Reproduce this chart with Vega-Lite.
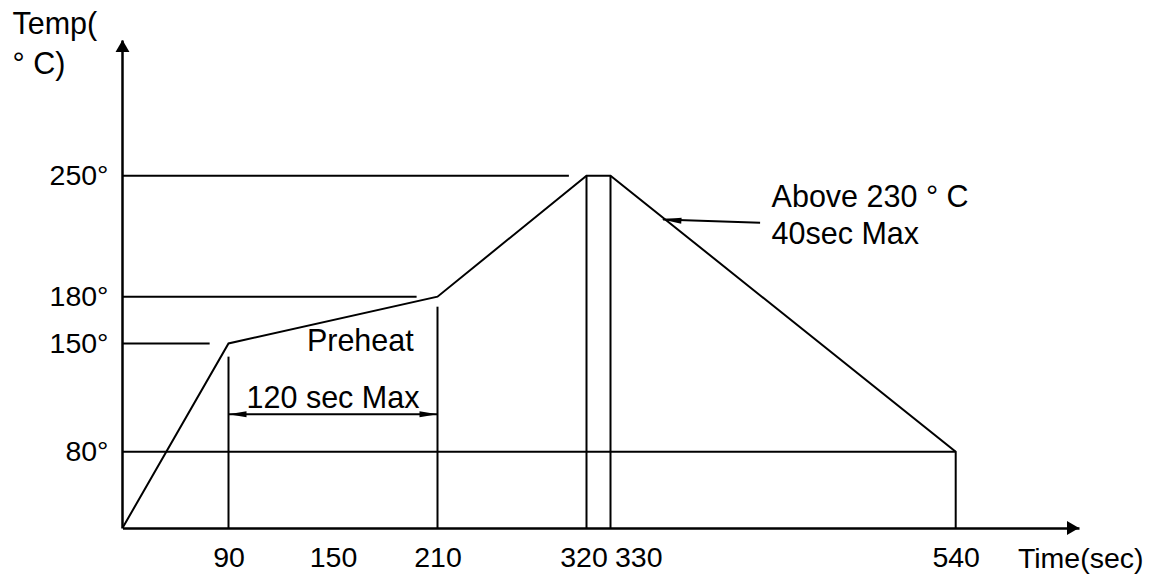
{
  "$schema": "https://vega.github.io/schema/vega-lite/v6.json",
  "width": 957,
  "height": 488,
  "autosize": {"type": "none"},
  "padding": {"left": 122, "top": 40, "right": 75, "bottom": 50},
  "background": "white",
  "config": {
    "view": {"stroke": null},
    "font": "Liberation Sans",
    "axis": {
      "grid": false, "ticks": false, "tickSize": 0,
      "domainColor": "#000", "domainWidth": 2.5,
      "labelColor": "#000", "labelFont": "Liberation Sans", "labelFontSize": 28.5,
      "titleColor": "#000", "titleFont": "Liberation Sans", "titleFontWeight": "normal"
    },
    "text": {"font": "Liberation Sans", "fontSize": 30.5, "color": "#000"}
  },
  "datasets": {
    "profile": [
      {"i": 1, "x": 0, "y": 0},
      {"i": 2, "x": 90, "y": 150},
      {"i": 3, "x": 210, "y": 180},
      {"i": 4, "x": 320, "y": 250},
      {"i": 5, "x": 330, "y": 250},
      {"i": 6, "x": 540, "y": 80},
      {"i": 7, "x": 540, "y": 0}
    ],
    "lines": [
      {"x": 0, "x2": 307, "y": 250, "y2": 250},
      {"x": 0, "x2": 198, "y": 180, "y2": 180},
      {"x": 0, "x2": 74, "y": 150, "y2": 150},
      {"x": 0, "x2": 540, "y": 80, "y2": 80},
      {"x": 90, "x2": 90, "y": 0, "y2": 141.5},
      {"x": 210, "x2": 210, "y": 0, "y2": 173.6},
      {"x": 320, "x2": 320, "y": 0, "y2": 250},
      {"x": 330, "x2": 330, "y": 0, "y2": 250},
      {"x": 90, "x2": 210, "y": 104.2, "y2": 104.2},
      {"x": 421, "x2": 362, "y": 222.8, "y2": 224.6}
    ],
    "heads": [
      {"name": "dimL", "x": 90, "y": 104.2},
      {"name": "dimR", "x": 210, "y": 104.2},
      {"name": "note", "x": 361, "y": 224.8},
      {"name": "yAxis", "x": 0, "y": 330},
      {"name": "xAxis", "x": 615, "y": 0}
    ],
    "notesLeft": [
      {"x": 135, "y": 151, "label": "Preheat"},
      {"x": 428, "y": 237.3, "label": "Above 230 ° C"},
      {"x": 428, "y": 215.7, "label": "40sec Max"}
    ],
    "notesCenter": [
      {"x": 150, "y": 114, "label": "120 sec Max"}
    ]
  },
  "encoding": {
    "x": {
      "field": "x", "type": "quantitative",
      "scale": {"type": "linear", "domain": [0, 90, 210, 320, 330, 540, 615], "range": [0.5, 106.5, 315.5, 464.5, 488.5, 833.7, 957], "nice": false, "zero": false},
      "axis": {
        "values": [90, 150, 210, 320, 330, 540],
        "labelOverlap": false, "labelFlush": false, "labelBound": false,
        "labelPadding": 15, "labelBaseline": "top",
        "labelAlign": {"condition": {"test": "datum.value == 330", "value": "left"}, "value": "center"},
        "labelOffset": {"condition": [{"test": "datum.value == 320", "value": -3}, {"test": "datum.value == 330", "value": 4}], "value": 0},
        "title": "Time(sec)", "titleX": 1021, "titleY": 16, "titleAlign": "right", "titleBaseline": "top", "titleFontSize": 28.5
      }
    },
    "y": {
      "field": "y", "type": "quantitative",
      "scale": {"type": "linear", "domain": [0, 80, 150, 180, 250, 330], "range": [488, 411.7, 303.5, 256.7, 135.7, 0], "nice": false, "zero": false},
      "axis": {
        "values": [80, 150, 180, 250],
        "labelExpr": "datum.value + '°'",
        "labelPadding": 14,
        "title": ["Temp(", "° C)"], "titleAngle": 0, "titleAlign": "left", "titleBaseline": "top",
        "titleX": -110, "titleY": -31, "titleFontSize": 30.5, "titleLineHeight": 40
      }
    }
  },
  "layer": [
    {
      "data": {"name": "lines"},
      "mark": {"type": "rule", "color": "#000", "strokeWidth": 2},
      "encoding": {"x2": {"field": "x2"}, "y2": {"field": "y2"}}
    },
    {
      "data": {"name": "profile"},
      "mark": {"type": "line", "color": "#000", "strokeWidth": 2},
      "encoding": {"order": {"field": "i", "type": "quantitative"}}
    },
    {
      "data": {"name": "heads"},
      "transform": [{"filter": "datum.name == 'dimL'"}],
      "mark": {"type": "point", "shape": "M0,0L2,-0.34L2,0.34Z", "size": 324, "filled": true, "color": "#000", "opacity": 1, "strokeWidth": 0}
    },
    {
      "data": {"name": "heads"},
      "transform": [{"filter": "datum.name == 'dimR'"}],
      "mark": {"type": "point", "shape": "M0,0L-2,-0.34L-2,0.34Z", "size": 324, "filled": true, "color": "#000", "opacity": 1, "strokeWidth": 0}
    },
    {
      "data": {"name": "heads"},
      "transform": [{"filter": "datum.name == 'note'"}],
      "mark": {"type": "point", "shape": "M0,0L2,-0.3L2,0.3Z", "size": 400, "angle": 4, "filled": true, "color": "#000", "opacity": 1, "strokeWidth": 0}
    },
    {
      "data": {"name": "heads"},
      "transform": [{"filter": "datum.name == 'yAxis'"}],
      "mark": {"type": "point", "shape": "M0,0L-0.58,1L0.58,1Z", "size": 576, "filled": true, "color": "#000", "opacity": 1, "strokeWidth": 0}
    },
    {
      "data": {"name": "heads"},
      "transform": [{"filter": "datum.name == 'xAxis'"}],
      "mark": {"type": "point", "shape": "M0,0L-1,-0.58L-1,0.58Z", "size": 576, "filled": true, "color": "#000", "opacity": 1, "strokeWidth": 0}
    },
    {
      "data": {"name": "notesLeft"},
      "mark": {"type": "text", "align": "left", "baseline": "middle"},
      "encoding": {"text": {"field": "label"}}
    },
    {
      "data": {"name": "notesCenter"},
      "mark": {"type": "text", "align": "center", "baseline": "middle"},
      "encoding": {"text": {"field": "label"}}
    }
  ]
}
